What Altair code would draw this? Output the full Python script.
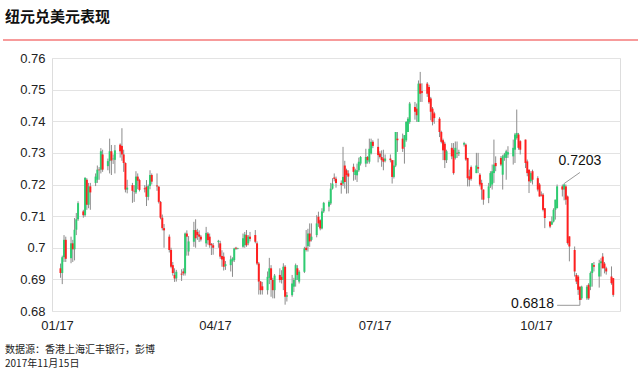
import altair as alt
import pandas as pd

# ---- data ----
dates = pd.bdate_range("2017-01-03", "2017-11-14").strftime("%Y-%m-%d").tolist()

opens = [
    0.6935, 0.692, 0.697, 0.7025,
    0.6967, 0.7014, 0.6995, 0.7057, 0.709,
    0.7115, 0.7103, 0.7215, 0.7136, 0.7194,
    0.7205, 0.7215, 0.7247, 0.7247, 0.7295,
    0.7258, 0.7274, 0.7305, 0.728, 0.7278,
    0.7326, 0.7322, 0.7295, 0.7268, 0.7184,
    0.7198, 0.718, 0.7175, 0.7225, 0.7214,
    0.7188, 0.7193, 0.7161, 0.7195, 0.723,
    0.7197, 0.7193, 0.7145, 0.7095, 0.7062,
    0.7035, 0.6993, 0.6945, 0.6914, 0.6903,
    0.6918, 0.6925, 0.6919, 0.7045, 0.6988,
    0.7019, 0.7056, 0.705, 0.7042, 0.7035,
    0.7014, 0.7045, 0.7035, 0.7012, 0.7008,
    0.7018, 0.7014, 0.6974, 0.6972, 0.6942,
    0.6945, 0.6957, 0.6961, 0.700, 0.6997,
    0.7003, 0.7008, 0.704, 0.7014, 0.7035,
    0.704, 0.7014, 0.695, 0.6893, 0.6878,
    0.6866, 0.6905, 0.6935, 0.6898, 0.6866,
    0.6914, 0.6908, 0.6898, 0.694, 0.6845,
    0.685, 0.6877, 0.6898, 0.6935, 0.6893,
    0.6924, 0.700, 0.7005, 0.7045, 0.7025,
    0.704, 0.7098, 0.7087, 0.7061, 0.7115,
    0.713, 0.714, 0.7187, 0.7222, 0.7218,
    0.7205, 0.7203, 0.726, 0.7245, 0.7235,
    0.7256, 0.723, 0.7229, 0.7245, 0.7266,
    0.7266, 0.7287, 0.7272, 0.7298, 0.7335,
    0.7319, 0.7298, 0.7287, 0.7282, 0.7275,
    0.7282, 0.7277, 0.7224, 0.726, 0.7345,
    0.7345, 0.7319, 0.734, 0.7366, 0.7398,
    0.7445, 0.744, 0.7398, 0.7519, 0.7495,
    0.7519, 0.7508, 0.7472, 0.744, 0.7425,
    0.7408, 0.7366, 0.734, 0.7329, 0.7277,
    0.7316, 0.731, 0.7284, 0.730, 0.7298,
    0.7326, 0.7326, 0.7284, 0.7226, 0.7255,
    0.7236, 0.7255, 0.7231, 0.7205, 0.7184,
    0.7157, 0.7194, 0.720, 0.7236, 0.7268,
    0.7284, 0.7231, 0.7285, 0.7284, 0.7295,
    0.7289, 0.731, 0.7347, 0.7358, 0.7337,
    0.7342, 0.7273, 0.7247, 0.721, 0.7242,
    0.722, 0.720, 0.7168, 0.7168, 0.7125,
    0.7083, 0.7073, 0.7083, 0.712, 0.7125,
    0.7194, 0.7184, 0.7194, 0.7162, 0.7036,
    0.6993, 0.6914, 0.6909, 0.6877, 0.684,
    0.684, 0.6883, 0.6877, 0.692, 0.6945,
    0.6909, 0.6951, 0.6972, 0.695, 0.6935,
    0.6909, 0.6904,
]
highs = [
    0.695, 0.6975, 0.704, 0.7035,
    0.7035, 0.7025, 0.7094, 0.711, 0.7147,
    0.712, 0.7223, 0.722, 0.7205, 0.7205,
    0.7235, 0.726, 0.7255, 0.7315, 0.731,
    0.7282, 0.7345, 0.7325, 0.7295, 0.7325,
    0.733, 0.7378, 0.731, 0.727, 0.7215,
    0.7205, 0.7198, 0.7242, 0.7235, 0.7218,
    0.7198, 0.7214, 0.720, 0.7245, 0.7235,
    0.7235, 0.7195, 0.7148, 0.7105, 0.7075,
    0.7042, 0.700, 0.6955, 0.6935, 0.693,
    0.6932, 0.6935, 0.7048, 0.7055, 0.7037,
    0.7082, 0.709, 0.706, 0.7055, 0.704,
    0.7066, 0.705, 0.7045, 0.7015, 0.7015,
    0.7025, 0.7022, 0.6992, 0.6985, 0.6958,
    0.6975, 0.697, 0.700, 0.7003, 0.700,
    0.7045, 0.705, 0.7056, 0.704, 0.705,
    0.7056, 0.702, 0.6955, 0.6895, 0.6892,
    0.6925, 0.6968, 0.6945, 0.6905, 0.6917,
    0.6935, 0.6929, 0.6951, 0.6945, 0.686,
    0.6914, 0.6905, 0.695, 0.6945, 0.6929,
    0.7003, 0.7056, 0.706, 0.7077, 0.7077,
    0.7103, 0.7114, 0.709, 0.7125, 0.7145,
    0.715, 0.7205, 0.722, 0.7235, 0.7225,
    0.7213, 0.7319, 0.7275, 0.725, 0.7245,
    0.7266, 0.725, 0.7266, 0.7285, 0.729,
    0.7313, 0.729, 0.7345, 0.7345, 0.734,
    0.7345, 0.7305, 0.7308, 0.731, 0.7295,
    0.7295, 0.7277, 0.7277, 0.7366, 0.7366,
    0.7361, 0.7356, 0.740, 0.7413, 0.7461,
    0.7461, 0.7456, 0.7529, 0.7556, 0.752,
    0.7524, 0.7515, 0.7477, 0.7445, 0.743,
    0.7413, 0.737, 0.7345, 0.7335, 0.731,
    0.7331, 0.7331, 0.7336, 0.7336, 0.731,
    0.7335, 0.733, 0.7284, 0.7247, 0.726,
    0.730, 0.730, 0.7236, 0.7215, 0.7184,
    0.7205, 0.7242, 0.7263, 0.7342, 0.7289,
    0.729, 0.7294, 0.730, 0.731, 0.7321,
    0.7342, 0.7363, 0.7437, 0.7363, 0.734,
    0.7342, 0.7279, 0.7247, 0.7242, 0.7247,
    0.7226, 0.7205, 0.7178, 0.7173, 0.7125,
    0.7083, 0.7099, 0.7125, 0.7152, 0.720,
    0.720, 0.7203, 0.720, 0.7165, 0.7036,
    0.7004, 0.692, 0.6914, 0.6877, 0.688,
    0.6882, 0.6888, 0.6925, 0.6951, 0.6955,
    0.6962, 0.6967, 0.6983, 0.6955, 0.694,
    0.6941, 0.6904,
]
lows = [
    0.6905, 0.6885, 0.6955, 0.6955,
    0.6951, 0.6955, 0.696, 0.704, 0.7085,
    0.7095, 0.7098, 0.712, 0.7125, 0.712,
    0.7195, 0.7205, 0.7215, 0.7235, 0.724,
    0.7245, 0.7235, 0.723, 0.7265, 0.7235,
    0.7285, 0.7275, 0.724, 0.7175, 0.7172,
    0.7142, 0.7145, 0.717, 0.7185, 0.7178,
    0.7175, 0.7132, 0.715, 0.7185, 0.720,
    0.718, 0.714, 0.709, 0.7055, 0.700,
    0.6985, 0.6935, 0.6912, 0.6892, 0.6893,
    0.6895, 0.6912, 0.6912, 0.6975, 0.6975,
    0.7003, 0.700, 0.7025, 0.7018, 0.702,
    0.7003, 0.701, 0.700, 0.6977, 0.6978,
    0.700, 0.6965, 0.694, 0.6928, 0.693,
    0.6925, 0.6908, 0.6955, 0.6993, 0.6995,
    0.700, 0.700, 0.7003, 0.7008, 0.702,
    0.7014, 0.6945, 0.6852, 0.6852, 0.6852,
    0.6852, 0.6885, 0.6845, 0.684, 0.684,
    0.689, 0.6887, 0.6866, 0.682, 0.683,
    0.6845, 0.686, 0.6877, 0.6898, 0.6887,
    0.692, 0.6988, 0.6988, 0.7003, 0.702,
    0.7033, 0.7066, 0.7055, 0.7058, 0.711,
    0.7115, 0.7135, 0.7184, 0.721, 0.719,
    0.7171, 0.7195, 0.7187, 0.7171, 0.7172,
    0.7212, 0.7215, 0.7208, 0.724, 0.726,
    0.7255, 0.7266, 0.7266, 0.7295, 0.7315,
    0.727, 0.7282, 0.7256, 0.7245, 0.727,
    0.727, 0.7203, 0.7219, 0.7255, 0.7303,
    0.7303, 0.7266, 0.7335, 0.7366, 0.7392,
    0.7405, 0.7398, 0.7398, 0.7461, 0.7461,
    0.7477, 0.7455, 0.7403, 0.7387, 0.7392,
    0.735, 0.733, 0.7277, 0.7252, 0.7268,
    0.728, 0.7231, 0.7279, 0.7284, 0.729,
    0.732, 0.7275, 0.7194, 0.7194, 0.7212,
    0.7236, 0.7236, 0.7194, 0.7152, 0.7136,
    0.7141, 0.7189, 0.7184, 0.7205, 0.7242,
    0.7258, 0.7184, 0.7275, 0.7215, 0.7284,
    0.7263, 0.7268, 0.7342, 0.731, 0.7295,
    0.7252, 0.7226, 0.7173, 0.7205, 0.720,
    0.7178, 0.7162, 0.7162, 0.7115, 0.7062,
    0.7062, 0.7073, 0.708, 0.7089, 0.7125,
    0.7162, 0.715, 0.7136, 0.701, 0.6957,
    0.6909, 0.6885, 0.6851, 0.6818, 0.6835,
    0.6835, 0.6835, 0.6866, 0.6877, 0.6925,
    0.6874, 0.6909, 0.6935, 0.6919, 0.6915,
    0.6883, 0.6845,
]
closes = [
    0.692, 0.697, 0.7025, 0.6965,
    0.7014, 0.6995, 0.7057, 0.709, 0.7141,
    0.7103, 0.7221, 0.7136, 0.7194, 0.7175,
    0.7225, 0.7247, 0.7245, 0.7305, 0.7247,
    0.7274, 0.7305, 0.7276, 0.7282, 0.7308,
    0.7305, 0.7295, 0.7268, 0.7184, 0.719,
    0.718, 0.7178, 0.7225, 0.7212, 0.7183,
    0.7185, 0.7161, 0.7195, 0.723, 0.7209,
    0.7194, 0.7145, 0.7095, 0.7062, 0.7055,
    0.6993, 0.694, 0.692, 0.6903, 0.6924,
    0.6915, 0.6919, 0.7045, 0.7035, 0.702,
    0.7056, 0.703, 0.704, 0.7035, 0.7026,
    0.7047, 0.7024, 0.7008, 0.7008, 0.700,
    0.7022, 0.6972, 0.6963, 0.694, 0.6948,
    0.6963, 0.6966, 0.6998, 0.6997, 0.6999,
    0.703, 0.7042, 0.7008, 0.7035, 0.7028,
    0.7019, 0.695, 0.6893, 0.6866, 0.6866,
    0.6908, 0.6935, 0.6898, 0.6866, 0.6912,
    0.6898, 0.6898, 0.694, 0.6845, 0.685,
    0.6887, 0.6898, 0.6945, 0.6914, 0.6924,
    0.6998, 0.6993, 0.7045, 0.702, 0.7035,
    0.7077, 0.7077, 0.7061, 0.7115, 0.7142,
    0.7145, 0.7187, 0.7203, 0.7218, 0.7205,
    0.7198, 0.7224, 0.7208, 0.723, 0.7225,
    0.724, 0.7245, 0.7245, 0.7272, 0.7287,
    0.7287, 0.7277, 0.7313, 0.7335, 0.7322,
    0.7293, 0.7287, 0.7277, 0.7272, 0.7282,
    0.7277, 0.7224, 0.726, 0.7366, 0.734,
    0.7313, 0.7356, 0.7398, 0.7408, 0.7456,
    0.743, 0.7419, 0.7519, 0.7487, 0.749,
    0.7487, 0.746, 0.743, 0.7398, 0.741,
    0.7366, 0.7335, 0.7308, 0.7277, 0.7305,
    0.7289, 0.7236, 0.7316, 0.7298, 0.7302,
    0.7331, 0.7279, 0.722, 0.7215, 0.7218,
    0.726, 0.725, 0.720, 0.7184, 0.7152,
    0.7194, 0.7236, 0.7242, 0.7263, 0.7258,
    0.7263, 0.7289, 0.7295, 0.7305, 0.7302,
    0.7316, 0.7358, 0.7363, 0.7316, 0.731,
    0.7268, 0.7236, 0.721, 0.7236, 0.7215,
    0.7184, 0.7162, 0.7165, 0.712, 0.7094,
    0.7067, 0.7083, 0.712, 0.7152, 0.7194,
    0.7184, 0.720, 0.7152, 0.7015, 0.7004,
    0.6925, 0.6893, 0.6867, 0.6835, 0.6877,
    0.6877, 0.684, 0.692, 0.6951, 0.694,
    0.6951, 0.6957, 0.6935, 0.6935, 0.6925,
    0.6888, 0.6851,
]

y_ticks = [0.68, 0.69, 0.70, 0.71, 0.72, 0.73, 0.74, 0.75, 0.76]

# annotations
ann_labels = ["0.7203", "0.6818"]
ann_label_dates = ["2017-10-26", "2017-09-29"]
ann_label_vals = [0.7274, 0.6822]
ann_from_dates = ["2017-10-17", "2017-10-13"]
ann_from_vals = [0.7203, 0.6818]
ann_to_dates = ["2017-10-26", "2017-10-26"]
ann_to_vals = [0.7238, 0.6818]

title_text = "纽元兑美元表现"
source_line1 = "数据源：香港上海汇丰银行，彭博"
source_line2 = "2017年11月15日"

# ---- chart ----
df = pd.DataFrame({"date": dates, "open": opens, "high": highs, "low": lows, "close": closes})

x_scale = alt.Scale(
    type="utc",
    domain=[alt.DateTime(year=2017, month=1, date=1, utc=True),
            alt.DateTime(year=2017, month=11, date=15, utc=True)],
)
y_scale = alt.Scale(domain=[0.68, 0.76], nice=False, zero=False)

x_axis = alt.Axis(
    values=[alt.DateTime(year=2017, month=m, date=1, utc=True) for m in (1, 4, 7, 10)],
    labelExpr="utcFormat(datum.value, '%m/%y')", title=None, grid=False, domain=False,
    ticks=False, labelFlush=False, labelPadding=8, labelFontSize=13,
    labelFont="Liberation Sans", labelColor="#222",
)
y_axis = alt.Axis(
    values=y_ticks, labelExpr="format(datum.value, '.2~f')", title=None,
    domain=False, ticks=False, grid=True, gridColor="#e3e3e3", gridWidth=1,
    labelPadding=7, labelFontSize=13, labelFont="Liberation Sans", labelColor="#222",
)


def X(field):
    return alt.X(field, scale=x_scale, axis=x_axis)


def Y(field):
    return alt.Y(field, scale=y_scale, axis=y_axis)


base = alt.Chart(df)
wicks = base.mark_rule(color="#8c8c8c", strokeWidth=1).encode(
    x=X("date:T"), y=Y("low:Q"), y2="high:Q",
)
bodies = base.mark_bar(size=2).encode(
    x=X("date:T"), y=Y("open:Q"), y2="close:Q",
    color=alt.condition("datum.close >= datum.open", alt.value("#2ecc71"), alt.value("#ff1f1f")),
)

ann_lines_df = pd.DataFrame({"x": ann_from_dates, "y": ann_from_vals, "x2": ann_to_dates, "y2": ann_to_vals})
ann_lines = alt.Chart(ann_lines_df).mark_rule(color="#999999", strokeWidth=1).encode(
    x=X("x:T"), y=Y("y:Q"), x2="x2:T", y2="y2:Q"
)
ann_text_df = pd.DataFrame({"x": ann_label_dates, "y": ann_label_vals, "t": ann_labels})
ann_text = alt.Chart(ann_text_df).mark_text(
    fontSize=14, font="Liberation Sans", color="#111", align="center", baseline="middle"
).encode(x=X("x:T"), y=Y("y:Q"), text="t:N")

title = alt.Chart(pd.DataFrame({"t": [title_text]})).mark_text(
    font="Noto Sans CJK SC", fontSize=15, fontWeight="bold", color="#111",
    align="left", baseline="middle",
).encode(text="t:N", x=alt.value(-47), y=alt.value(-41))

red_line = alt.Chart(pd.DataFrame({"a": [0]})).mark_rule(color="#f47a7a", strokeWidth=1.5).encode(
    x=alt.value(-49), x2=alt.value(586), y=alt.value(-18)
)

source1 = alt.Chart(pd.DataFrame({"t": [source_line1]})).mark_text(
    font="Noto Sans CJK SC", fontSize=10, color="#222", align="left", baseline="middle"
).encode(text="t:N", x=alt.value(-47), y=alt.value(292))
source2 = alt.Chart(pd.DataFrame({"t": [source_line2]})).mark_text(
    font="Noto Sans CJK SC", fontSize=10, color="#222", align="left", baseline="middle"
).encode(text="t:N", x=alt.value(-47), y=alt.value(306))

chart = alt.layer(wicks, bodies, ann_lines, ann_text, title, red_line, source1, source2).properties(
    width=568, height=253,
    autosize=alt.AutoSizeParams(type="none"),
    padding={"left": 52, "top": 58, "right": 20, "bottom": 61},
).configure_view(stroke=None).configure(background="white")

chart.save("out.html", embed_options={"renderer": "svg", "actions": False})
